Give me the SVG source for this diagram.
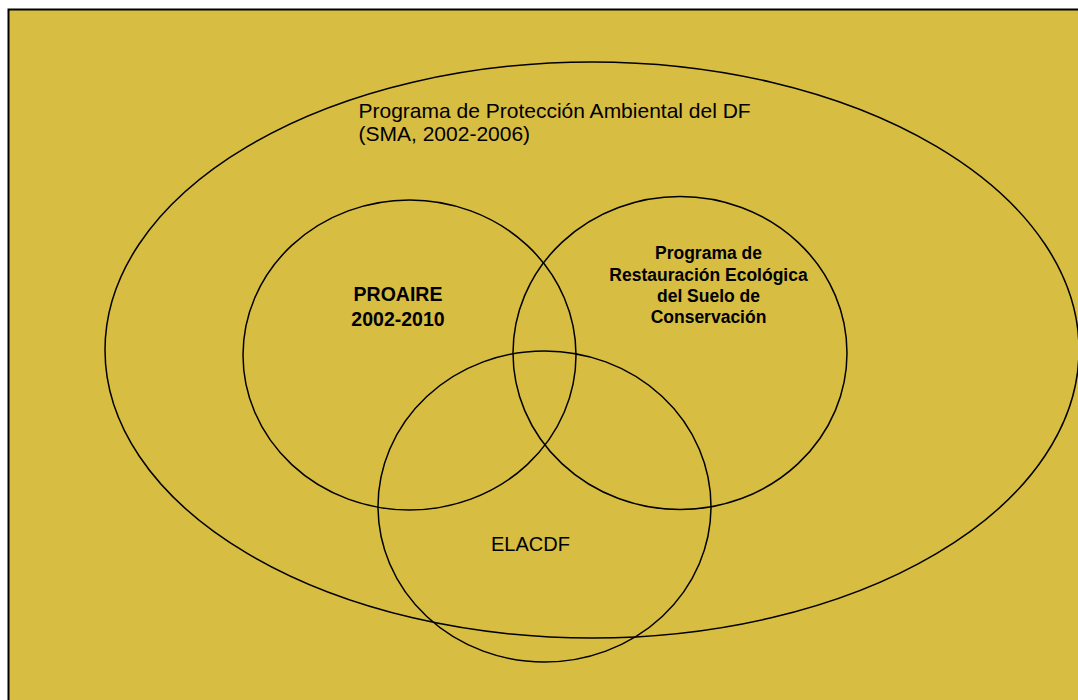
<svg xmlns="http://www.w3.org/2000/svg" width="1078" height="700" viewBox="0 0 1078 700">
<style>
.ring{fill:none;stroke:#000;stroke-width:1.5}
.t{font-family:"Liberation Sans",Arial,sans-serif;fill:#000}
.b{font-weight:bold}
</style>
<rect x="0" y="0" width="1078" height="700" fill="#fff"/>
<rect x="8.5" y="9.5" width="1080" height="700" fill="#D7BD42" stroke="#000" stroke-width="2"/>
<g id="outer">
<ellipse class="ring" cx="592" cy="350" rx="487" ry="288"/>
<text class="t" font-size="21" x="358.5" y="118">Programa de Protección Ambiental del DF</text>
<text class="t" font-size="21" x="358.5" y="141">(SMA, 2002-2006)</text>
</g>
<g id="proaire">
<ellipse class="ring" cx="409.5" cy="355" rx="166.5" ry="155"/>
<text class="t b" font-size="19.5" x="398" y="301" text-anchor="middle">PROAIRE</text>
<text class="t b" font-size="19.5" x="398" y="326" text-anchor="middle">2002-2010</text>
</g>
<g id="restauracion">
<ellipse class="ring" cx="680" cy="353" rx="167" ry="156.5"/>
<text class="t b" font-size="17.5" x="708.5" y="259" text-anchor="middle">Programa de</text>
<text class="t b" font-size="17.5" x="708.5" y="281" text-anchor="middle">Restauración Ecológica</text>
<text class="t b" font-size="17.5" x="708.5" y="302" text-anchor="middle">del Suelo de</text>
<text class="t b" font-size="17.5" x="708.5" y="323" text-anchor="middle">Conservación</text>
</g>
<g id="elacdf">
<ellipse class="ring" cx="544.5" cy="506.5" rx="166.5" ry="155.5"/>
<text class="t" font-size="20" x="491" y="551">ELACDF</text>
</g>
<g id="connectors"></g>
</svg>
